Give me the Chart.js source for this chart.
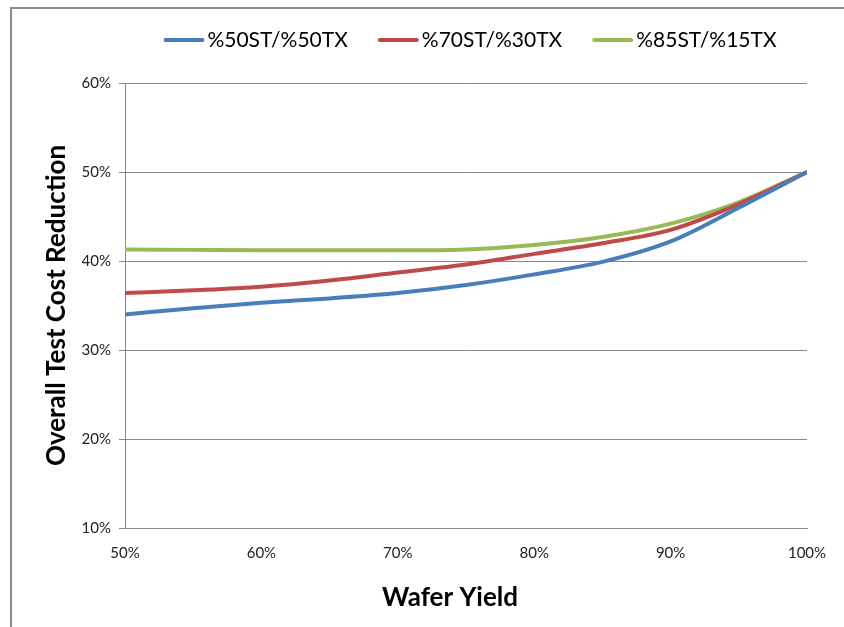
<!DOCTYPE html>
<html>
<head>
<meta charset="utf-8">
<script src="https://cdn.jsdelivr.net/npm/chart.js@4.4.1/dist/chart.umd.min.js"></script>
<style>
  html, body { margin: 0; padding: 0; background: #fff; }
  #wrap { width: 844px; height: 627px; position: relative; }
</style>
</head>
<body>
<div id="wrap"><canvas id="c"></canvas></div>
<script>
// Wafer yield (%) sampled along the x axis
const waferYield = [50, 55, 60, 65, 70, 75, 80, 85, 90, 95, 100];

// Overall test cost reduction (%) for each ST/TX mix
const mix50_50 = [34.0, 34.7, 35.3, 35.8, 36.4, 37.3, 38.5, 39.9, 42.2, 46.0, 50.0];
const mix70_30 = [36.4, 36.7, 37.1, 37.8, 38.7, 39.6, 40.8, 42.0, 43.5, 46.4, 50.0];
const mix85_15 = [41.3, 41.25, 41.2, 41.2, 41.2, 41.3, 41.8, 42.7, 44.2, 46.6, 50.0];

const seriesNames = ['%50ST/%50TX', '%70ST/%30TX', '%85ST/%15TX'];
const seriesColors = ['#4A7EBB', '#BE4B48', '#98B954'];

const xTicks = [50, 60, 70, 80, 90, 100];
const yTicks = [10, 20, 30, 40, 50, 60];

const xTitle = 'Wafer Yield';
const yTitle = 'Overall Test Cost Reduction';

const FONT = 'Lato, "Open Sans", sans-serif';

function toPoints(values) {
  return waferYield.map((x, i) => ({ x: x, y: values[i] }));
}

// Thin grey frame along the top and left of the chart
const framePlugin = {
  id: 'frame',
  beforeDraw(chart) {
    const ctx = chart.ctx;
    ctx.save();
    ctx.strokeStyle = '#8C8C8C';
    ctx.lineWidth = 2;
    ctx.beginPath();
    ctx.moveTo(11, 627);
    ctx.lineTo(11, 8);
    ctx.lineTo(844, 8);
    ctx.stroke();
    ctx.restore();
  }
};

// Legend row across the top and the x axis title underneath the tick labels
const annotationsPlugin = {
  id: 'annotations',
  afterDraw(chart) {
    const ctx = chart.ctx;
    ctx.save();

    // legend
    const lineLen = 41, textGap = 3, itemGap = 30, legendY = 40, centerX = 470;
    ctx.font = '21px ' + FONT;
    const items = chart.data.datasets.map(d => ({
      label: d.label,
      color: d.borderColor,
      textW: ctx.measureText(d.label).width
    }));
    const total = items.reduce((s, it) => s + lineLen + textGap + it.textW, 0) + itemGap * (items.length - 1);
    let x = centerX - total / 2;
    items.forEach(it => {
      ctx.strokeStyle = it.color;
      ctx.lineWidth = 4;
      ctx.lineCap = 'round';
      ctx.beginPath();
      ctx.moveTo(x + 2, legendY);
      ctx.lineTo(x + lineLen - 2, legendY);
      ctx.stroke();
      ctx.fillStyle = '#000';
      ctx.textAlign = 'left';
      ctx.textBaseline = 'middle';
      ctx.fillText(it.label, x + lineLen + textGap, legendY);
      x += lineLen + textGap + it.textW + itemGap;
    });

    // x axis title
    ctx.font = 'bold 26px ' + FONT;
    ctx.fillStyle = '#000';
    ctx.textAlign = 'center';
    ctx.textBaseline = 'middle';
    ctx.fillText(xTitle, 450, 598);

    ctx.restore();
  }
};

new Chart(document.getElementById('c'), {
  type: 'line',
  data: {
    datasets: [mix50_50, mix70_30, mix85_15].map((vals, i) => ({
      label: seriesNames[i],
      data: toPoints(vals),
      borderColor: seriesColors[i],
      backgroundColor: seriesColors[i],
      borderWidth: 4,
      pointRadius: 0,
      cubicInterpolationMode: 'monotone',
      fill: false
    }))
  },
  options: {
    responsive: true,
    maintainAspectRatio: false,
    animation: false,
    layout: { padding: { left: 0, right: 37, top: 83, bottom: 0 } },
    plugins: {
      legend: { display: false },
      tooltip: { enabled: false }
    },
    scales: {
      x: {
        type: 'linear',
        min: 50,
        max: 100,
        afterBuildTicks(scale) { scale.ticks = xTicks.map(v => ({ value: v })); },
        afterFit(scale) { scale.height = 99; },
        grid: { display: false, drawTicks: true, tickLength: 6, tickColor: '#888' },
        border: { display: true, color: '#888', width: 1 },
        ticks: {
          color: '#222',
          font: { family: FONT, size: 15 },
          padding: 10,
          maxRotation: 0,
          callback: v => v + '%'
        },
        title: { display: false }
      },
      y: {
        min: 10,
        max: 60,
        afterBuildTicks(scale) { scale.ticks = yTicks.map(v => ({ value: v })); },
        afterFit(scale) { scale.width = 125; },
        grid: { color: '#888', lineWidth: 1, tickLength: 6, tickColor: '#888' },
        border: { display: true, color: '#888', width: 1 },
        ticks: {
          color: '#222',
          font: { family: FONT, size: 15 },
          padding: 8,
          callback: v => v + '%'
        },
        title: {
          display: true,
          text: yTitle,
          color: '#000',
          font: { family: FONT, size: 26, weight: 'bold' },
          padding: { top: 41, bottom: 0 }
        }
      }
    }
  },
  plugins: [framePlugin, annotationsPlugin]
});
</script>
</body>
</html>
